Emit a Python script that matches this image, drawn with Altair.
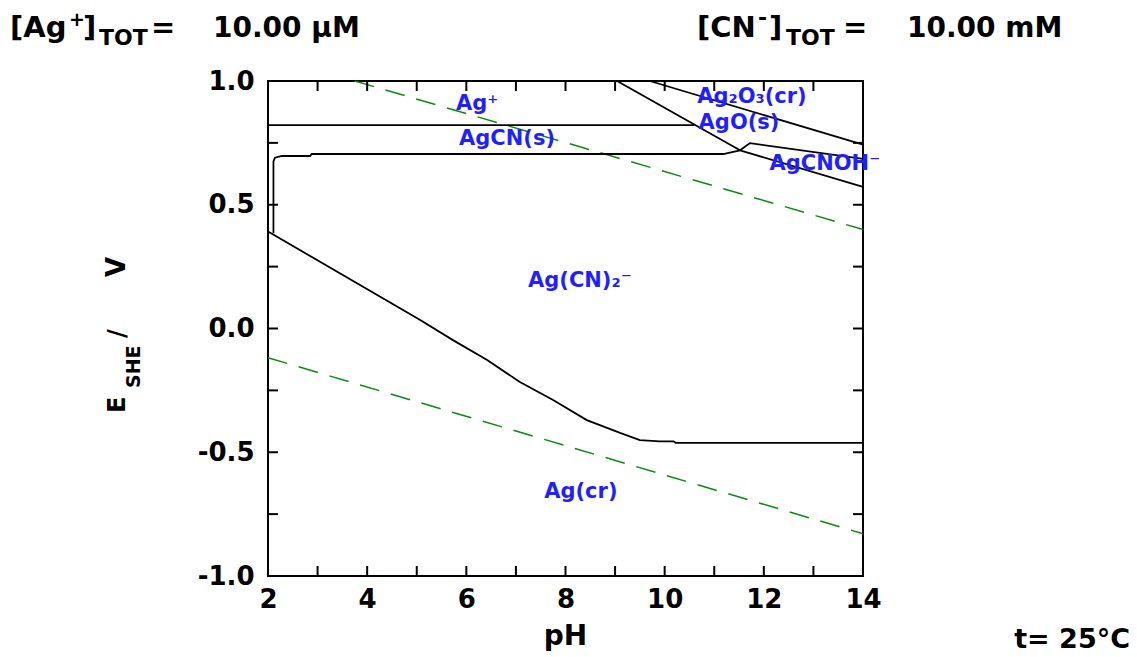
import altair as alt
import pandas as pd

# ---- boundary lines of the Eh-pH predominance diagram (pH, E / V) ----
ag_agcn_ph = [2.0, 10.60]
ag_agcn_e = [0.822, 0.822]

agcn_lower_ph = [2.11, 2.11, 2.14, 2.28, 2.85, 2.88, 11.18, 11.52]
agcn_lower_e = [0.385, 0.675, 0.690, 0.697, 0.697, 0.705, 0.705, 0.720]

ago_left_ph = [9.04, 11.52]
ago_left_e = [1.0, 0.720]

ag2o3_ph = [9.70, 14.0]
ag2o3_e = [1.0, 0.743]

ago_cnoh_ph = [11.52, 11.72, 14.0]
ago_cnoh_e = [0.720, 0.749, 0.685]

cnoh_cn2_ph = [11.52, 14.0]
cnoh_cn2_e = [0.720, 0.572]

cn2_ag_ph = [2.0, 5.07, 5.73, 6.42, 7.08, 7.75, 8.43, 9.10, 9.50, 9.90, 10.18, 10.22, 14.0]
cn2_ag_e = [0.392, 0.034, -0.047, -0.127, -0.216, -0.289, -0.370, -0.422, -0.451,
            -0.456, -0.456, -0.462, -0.462]

# ---- water stability limits (dashed) ----
o2_ph = [3.75, 14.0]
o2_e = [1.0, 0.400]
h2_ph = [2.0, 14.0]
h2_e = [-0.118, -0.829]

# ---- species labels ----
species = ["Ag⁺", "AgCN(s)", "Ag₂O₃(cr)", "AgO(s)", "AgCNOH⁻", "Ag(CN)₂⁻", "Ag(cr)"]
species_ph = [6.22, 6.82, 11.76, 11.50, 13.23, 8.29, 8.31]
species_e = [0.907, 0.766, 0.935, 0.830, 0.664, 0.192, -0.661]

# ---- axis ticks ----
x_ticks = list(range(2, 15))
y_ticks = [-1.0, -0.75, -0.5, -0.25, 0.0, 0.25, 0.5, 0.75, 1.0]
x_labels = [2, 4, 6, 8, 10, 12, 14]
y_labels = [-1.0, -0.5, 0.0, 0.5, 1.0]

W, H = 595, 495
FONT = "DejaVu Sans"


def segments(pairs):
    rows = []
    for name, (phs, es) in pairs.items():
        for i, (p, e) in enumerate(zip(phs, es)):
            rows.append({"seg": name, "i": i, "pH": p, "E": e})
    return pd.DataFrame(rows)


bounds = segments({
    "ag_agcn": (ag_agcn_ph, ag_agcn_e),
    "agcn_lower": (agcn_lower_ph, agcn_lower_e),
    "ago_left": (ago_left_ph, ago_left_e),
    "ag2o3": (ag2o3_ph, ag2o3_e),
    "ago_cnoh": (ago_cnoh_ph, ago_cnoh_e),
    "cnoh_cn2": (cnoh_cn2_ph, cnoh_cn2_e),
    "cn2_ag": (cn2_ag_ph, cn2_ag_e),
})
water = segments({"o2": (o2_ph, o2_e), "h2": (h2_ph, h2_e)})
labels = pd.DataFrame({"name": species, "pH": species_ph, "E": species_e})

xs = alt.Scale(domain=[2, 14], nice=False, zero=False)
ys = alt.Scale(domain=[-1, 1], nice=False, zero=False)

x_axis = alt.Axis(values=x_labels, format="d", ticks=False, domain=False, grid=False,
                  title=None, labelFont=FONT, labelFontWeight="bold", labelFontSize=26,
                  labelColor="black", labelPadding=10, labelFlush=False)
y_axis = alt.Axis(values=y_labels, ticks=False, domain=False, grid=False, title=None,
                  labelExpr="(datum.value < 0 ? '-' : '') + format(abs(datum.value), '.1f')",
                  labelFont=FONT, labelFontWeight="bold", labelFontSize=26,
                  labelColor="black", labelPadding=14, labelFlush=False)

boundary_lines = alt.Chart(bounds).mark_line(color="black", strokeWidth=1.8).encode(
    x=alt.X("pH:Q", scale=xs, axis=x_axis),
    y=alt.Y("E:Q", scale=ys, axis=y_axis),
    detail="seg:N",
    order="i:Q",
)

water_lines = alt.Chart(water).mark_line(
    color="#0a8a0a", strokeWidth=1.5, strokeDash=[20, 12]
).encode(x=alt.X("pH:Q", scale=xs), y=alt.Y("E:Q", scale=ys), detail="seg:N", order="i:Q")

species_text = alt.Chart(labels).mark_text(
    font=FONT, fontWeight="bold", fontSize=21, color="#1f1fff", align="center", baseline="middle"
).encode(x=alt.X("pH:Q", scale=xs), y=alt.Y("E:Q", scale=ys), text="name:N")

# inward tick marks on all four sides
xt = pd.DataFrame({"pH": x_ticks})
yt = pd.DataFrame({"E": y_ticks})
tick_style = dict(color="black", strokeWidth=2)
ticks_bottom = alt.Chart(xt).mark_rule(**tick_style).encode(
    x=alt.X("pH:Q", scale=xs), y=alt.value(H), y2=alt.value(H - 10))
ticks_top = alt.Chart(xt).mark_rule(**tick_style).encode(
    x=alt.X("pH:Q", scale=xs), y=alt.value(0), y2=alt.value(10))
ticks_left = alt.Chart(yt).mark_rule(**tick_style).encode(
    y=alt.Y("E:Q", scale=ys), x=alt.value(0), x2=alt.value(10))
ticks_right = alt.Chart(yt).mark_rule(**tick_style).encode(
    y=alt.Y("E:Q", scale=ys), x=alt.value(W), x2=alt.value(W - 10))

one = pd.DataFrame({"_": [0]})


def note(text, x, y, size=28, align="left", angle=0):
    return alt.Chart(one).mark_text(
        text=text, font=FONT, fontWeight="bold", fontSize=size, color="black",
        align=align, baseline="alphabetic", angle=angle
    ).encode(x=alt.value(x), y=alt.value(y))


notes = [
    # [Ag+]TOT=   10.00 µM
    note("[Ag", -258, -44, size=29),
    note("+", -199, -55, size=19),
    note("]", -185, -44, size=29),
    note("TOT", -169, -36, size=22),
    note("=", -117, -44, size=29),
    note("10.00 μM", -55, -44),
    # [CN-]TOT=   10.00 mM
    note("[CN", 429, -44, size=29),
    note("-", 490, -56, size=22),
    note("]", 501, -44, size=29),
    note("TOT", 518, -36, size=22),
    note("=", 575, -44, size=29),
    note("10.00 mM", 639, -44),
    # temperature
    note("t= 25°C", 862, 567, size=27, align="right"),
    # x axis title
    note("pH", W / 2, 564, align="center"),
    # y axis title: E_SHE / V
    note("E", -143, 332, size=24, angle=270),
    note("SHE", -128, 307, size=19, angle=270),
    note("/", -143, 257, size=24, angle=270),
    note("V", -143, 196, size=26, angle=270),
]

chart = alt.layer(
    water_lines, boundary_lines, species_text,
    ticks_bottom, ticks_top, ticks_left, ticks_right,
    *notes,
).properties(
    width=W, height=H,
    autosize=alt.AutoSizeParams(type="none"),
    padding={"left": 268, "top": 81, "right": 274, "bottom": 81},
    background="white",
).configure_view(stroke="black", strokeWidth=2)

chart.save("out.html", embed_options={"renderer": "svg", "actions": False})
